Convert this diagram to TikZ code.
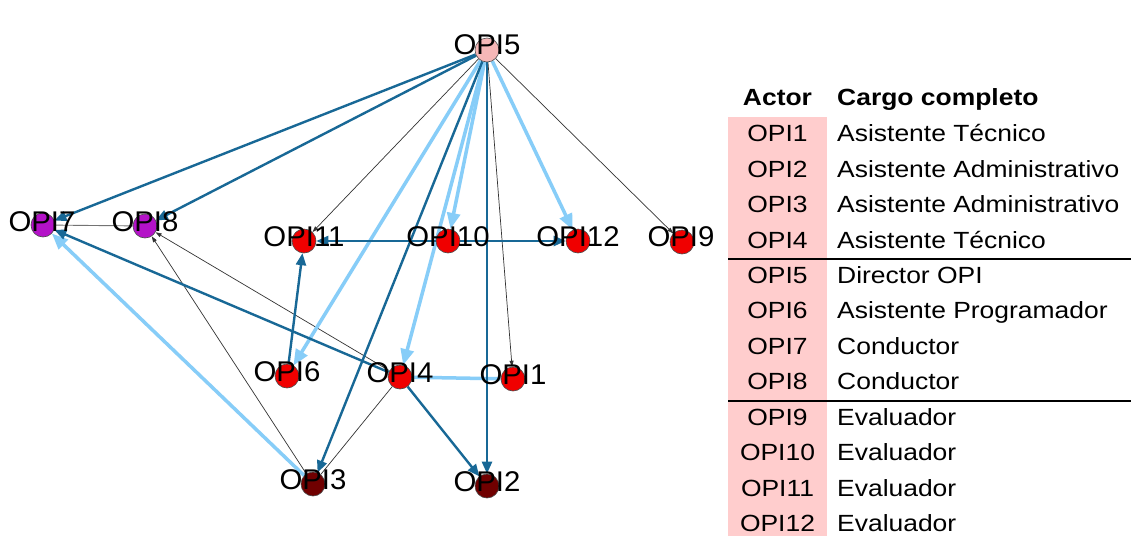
\documentclass[tikz,border=0pt]{standalone}
\usepackage{fontspec}
\setmainfont{Liberation Sans}
\newfontfamily\gfont[FakeStretch=1.03]{Liberation Sans}
\newfontfamily\tfont[FakeStretch=1.13]{Liberation Sans}
\usetikzlibrary{arrows.meta}
\pgfdeclarelayer{bg}
\pgfsetlayers{bg,main}
\definecolor{dblue}{RGB}{24,104,150}
\definecolor{lblue}{RGB}{135,205,248}
\definecolor{pinkc}{RGB}{255,205,205}
\definecolor{dirc}{RGB}{246,183,183}
\definecolor{purp}{RGB}{180,18,200}
\definecolor{redc}{RGB}{240,0,0}
\definecolor{darkr}{RGB}{112,0,0}
\tikzset{
  vert/.style={circle, draw=black!70, line width=0.6pt, minimum size=24pt, inner sep=0pt},
  lbl/.style={font=\gfont\fontsize{28.5}{28.5}\selectfont, inner sep=0pt},
  db/.style={draw=dblue, line width=2.4pt, -{Triangle[length=12pt,width=10pt]}},
  lb/.style={draw=lblue, line width=3.5pt, -{Triangle[length=16pt,width=13pt]}},
  lbn/.style={draw=lblue, line width=3.5pt},
  tb/.style={draw=black!80, line width=0.7pt, -{Triangle[length=6pt,width=4pt]}},
  tbn/.style={draw=black!80, line width=0.7pt},
  gl/.style={draw=black!55, line width=0.9pt},
  tab/.style={font=\tfont\fontsize{23.4}{23.4}\selectfont, inner sep=0pt},
  tabh/.style={font=\tfont\bfseries\fontsize{23.4}{23.4}\selectfont, inner sep=0pt},
}
\begin{document}
\begin{tikzpicture}[x=1pt,y=-1pt]
\useasboundingbox (0,0) rectangle (1131,536);
% vertices
\node[vert, fill=dirc]  (v5)  at (487,50)  {};
\node[vert, fill=purp]  (v7)  at (43,225)  {};
\node[vert, fill=purp]  (v8)  at (145,226) {};
\node[vert, fill=redc]  (v11) at (304,241) {};
\node[vert, fill=redc]  (v10) at (448,241) {};
\node[vert, fill=redc]  (v12) at (578,241) {};
\node[vert, fill=redc]  (v9)  at (682,242) {};
\node[vert, fill=redc]  (v6)  at (287,376) {};
\node[vert, fill=redc]  (v4)  at (400,377) {};
\node[vert, fill=redc]  (v1)  at (513,379) {};
\node[vert, fill=darkr] (v3)  at (313,484) {};
\node[vert, fill=darkr] (v2)  at (487,486) {};
% labels
\node[lbl] (l5)  at (487,45)  {OPI5};
\node[lbl] (l7)  at (42,222)  {OPI7};
\node[lbl] (l8)  at (145,222) {OPI8};
\node[lbl] (l11) at (304,237) {OPI11};
\node[lbl] (l10) at (448,237) {OPI10};
\node[lbl] (l12) at (578,237) {OPI12};
\node[lbl] (l9)  at (681,237) {OPI9};
\node[lbl] (l6)  at (287,372) {OPI6};
\node[lbl] (l4)  at (400,373) {OPI4};
\node[lbl] (l1)  at (513,375) {OPI1};
\node[lbl] (l3)  at (313,480) {OPI3};
\node[lbl] (l2)  at (487,482) {OPI2};
% edges
\begin{pgfonlayer}{bg}
\fill[white] (0,0) rectangle (1131,536);
\draw[gl] (v8) -- (v7);
\draw[tbn] (v4) -- (v3);
\draw[lbn] (v1) -- (v4);
\draw[tb] (v5) -- (v11);
\draw[tb] (v5) -- (v1);
\draw[tb] (v5) -- (v9);
\draw[tb] (v4) -- (v8);
\draw[tb] (v3) -- (v8);
\draw[lb] (v5) -- (v6);
\draw[lb] (v5) -- (v10);
\draw[lb] (v5) -- (v4);
\draw[lb] (v5) -- (v12);
\draw[lb] (v3) -- (v7);
\draw[db] (v5) -- (v7);
\draw[db] (v5) -- (v8);
\draw[db] (v5) -- (v3);
\draw[db] (v5) -- (v2);
\draw[db] (v10) -- (v11);
\draw[db] (v10) -- (v12);
\draw[db] (v6) -- (v11);
\draw[db] (v4) -- (v7);
\draw[db] (v4) -- (v2);
\end{pgfonlayer}
% table
\fill[pinkc] (728,117) rectangle (827,536);
\node[tabh, anchor=base] (hA) at (777.5,105.1) {Actor};
\node[tabh, anchor=base west] (hC) at (837,105.1) {Cargo completo};
\foreach \n/\t [count=\i] in {OPI1/Asistente Técnico, OPI2/Asistente Administrativo, OPI3/Asistente Administrativo, OPI4/Asistente Técnico, OPI5/Director OPI, OPI6/Asistente Programador, OPI7/Conductor, OPI8/Conductor, OPI9/Evaluador, OPI10/Evaluador, OPI11/Evaluador, OPI12/Evaluador}{
  \pgfmathsetmacro{\yy}{133.3+35.45*(\i-1)+8.4}
  \node[tab, anchor=base] (a\i) at (777.5,\yy) {\n};
  \node[tab, anchor=base west] (c\i) at (837,\yy) {\t};
}
\draw[line width=2pt] (728,259) -- (1131,259);
\draw[line width=2pt] (728,401) -- (1131,401);
\end{tikzpicture}
\end{document}
